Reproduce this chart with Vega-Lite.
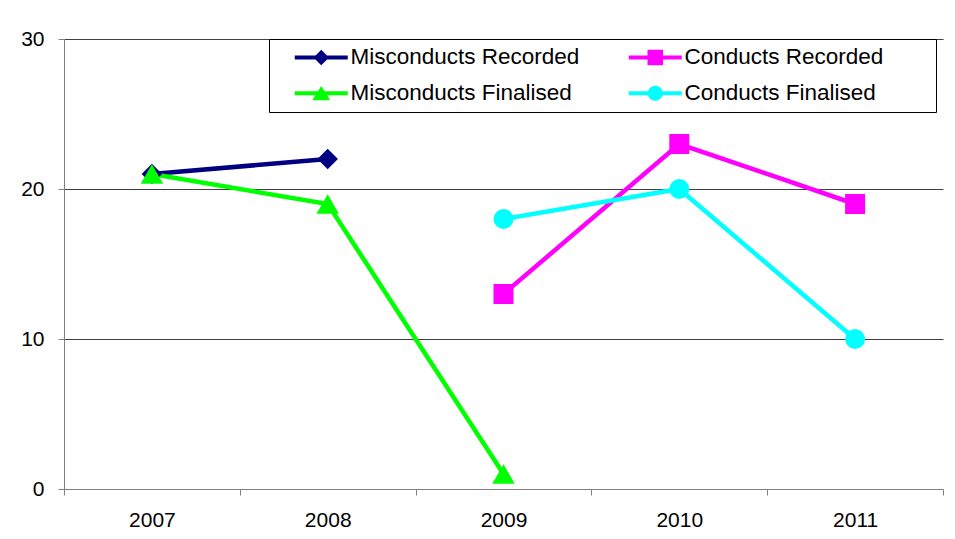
{
  "$schema": "https://vega.github.io/schema/vega-lite/v6.json",
  "width": 879,
  "height": 450,
  "autosize": {"type": "none"},
  "padding": {"left": 64, "top": 39, "right": 12, "bottom": 50},
  "background": "white",
  "config": {"view": {"stroke": null}, "font": "Liberation Sans"},
  "data": {
    "values": [
      {"series": "Misconducts Recorded", "year": "2007", "value": 21},
      {"series": "Misconducts Recorded", "year": "2008", "value": 22},
      {"series": "Conducts Recorded", "year": "2009", "value": 13},
      {"series": "Conducts Recorded", "year": "2010", "value": 23},
      {"series": "Conducts Recorded", "year": "2011", "value": 19},
      {"series": "Misconducts Finalised", "year": "2007", "value": 21},
      {"series": "Misconducts Finalised", "year": "2008", "value": 19},
      {"series": "Misconducts Finalised", "year": "2009", "value": 1},
      {"series": "Conducts Finalised", "year": "2009", "value": 18},
      {"series": "Conducts Finalised", "year": "2010", "value": 20},
      {"series": "Conducts Finalised", "year": "2011", "value": 10}
    ]
  },
  "encoding": {
    "x": {
      "field": "year",
      "type": "ordinal",
      "scale": {"type": "band", "paddingInner": 0, "paddingOuter": 0},
      "axis": {
        "title": null,
        "tickBand": "extent",
        "labelAngle": 0,
        "labelFontSize": 21,
        "labelFont": "Liberation Sans",
        "labelColor": "#000",
        "labelPadding": 14,
        "tickSize": 6,
        "tickColor": "#808080",
        "domainColor": "#808080",
        "grid": false
      }
    },
    "y": {
      "field": "value",
      "type": "quantitative",
      "scale": {"domain": [0, 30], "nice": false},
      "axis": {
        "title": null,
        "values": [0, 10, 20, 30],
        "labelFontSize": 21,
        "labelFont": "Liberation Sans",
        "labelColor": "#000",
        "labelPadding": 14,
        "tickSize": 6,
        "tickColor": "#808080",
        "domainColor": "#808080",
        "grid": true,
        "gridColor": {"condition": {"test": "datum.value === 0", "value": "transparent"}, "value": "#404040"},
        "gridOpacity": 1
      }
    },
    "color": {
      "field": "series",
      "type": "nominal",
      "scale": {
        "domain": ["Misconducts Recorded", "Conducts Recorded", "Misconducts Finalised", "Conducts Finalised"],
        "range": ["#000080", "#FF00FF", "#00FF00", "#00FFFF"]
      },
      "legend": {
        "title": "\u00a0",
        "titleOrient": "right",
        "titleFontSize": 1,
        "titlePadding": 46,
        "orient": "none",
        "legendX": 205,
        "legendY": 0,
        "direction": "horizontal",
        "columns": 2,
        "strokeColor": "#000",
        "fillColor": "white",
        "padding": 7,
        "symbolSize": 100,
        "symbolOffset": 34,
        "labelOffset": 18,
        "labelFontSize": 22.5,
        "labelFont": "Liberation Sans",
        "labelColor": "#000",
        "labelLimit": 500,
        "rowPadding": 13,
        "columnPadding": 30,
        "encoding": {
          "symbols": {
            "shape": {"value": {"expr": "datum.value === 'Misconducts Recorded' ? 'M-5.3,-0.4L-1.15,-0.4L0,-1.55L1.15,-0.4L5.3,-0.4L5.3,0.4L1.15,0.4L0,1.55L-1.15,0.4L-5.3,0.4Z' : datum.value === 'Conducts Recorded' ? 'M-5.3,-0.4L-1.55,-0.4L-1.55,-1.55L1.55,-1.55L1.55,-0.4L5.3,-0.4L5.3,0.4L1.55,0.4L1.55,1.55L-1.55,1.55L-1.55,0.4L-5.3,0.4Z' : datum.value === 'Misconducts Finalised' ? 'M-5.3,-0.4L-0.663,-0.4L0,-1.45L0.663,-0.4L5.3,-0.4L5.3,0.4L1.168,0.4L1.8,1.4L-1.8,1.4L-1.168,0.4L-5.3,0.4Z' : 'M-5.3,-0.4L-1.446,-0.4L-1.299,-0.75L-1.061,-1.061L-0.75,-1.299L-0.388,-1.449L0,-1.5L0.388,-1.449L0.75,-1.299L1.061,-1.061L1.299,-0.75L1.446,-0.4L5.3,-0.4L5.3,0.4L1.446,0.4L1.299,0.75L1.061,1.061L0.75,1.299L0.388,1.449L0,1.5L-0.388,1.449L-0.75,1.299L-1.061,1.061L-1.299,0.75L-1.446,0.4L-5.3,0.4Z'"}},
            "size": {"value": 100},
            "fill": {"value": {"expr": "scale('color', datum.value)"}},
            "fillOpacity": {"value": 1},
            "opacity": {"value": 1},
            "strokeWidth": {"value": 0}
          }
        }
      }
    }
  },
  "layer": [
    {"mark": {"type": "line", "strokeWidth": 4.5}},
    {
      "transform": [{"filter": "datum.series === 'Misconducts Recorded'"}],
      "mark": {"type": "point", "shape": "diamond", "size": 420, "filled": true, "opacity": 1, "strokeWidth": 0}
    },
    {
      "transform": [{"filter": "datum.series === 'Conducts Recorded'"}],
      "mark": {"type": "point", "shape": "square", "size": 400, "filled": true, "opacity": 1, "strokeWidth": 0}
    },
    {
      "transform": [{"filter": "datum.series === 'Misconducts Finalised'"}],
      "mark": {"type": "point", "shape": "triangle-up", "size": 500, "filled": true, "opacity": 1, "strokeWidth": 0}
    },
    {
      "transform": [{"filter": "datum.series === 'Conducts Finalised'"}],
      "mark": {"type": "point", "shape": "circle", "size": 400, "filled": true, "opacity": 1, "strokeWidth": 0}
    }
  ]
}
